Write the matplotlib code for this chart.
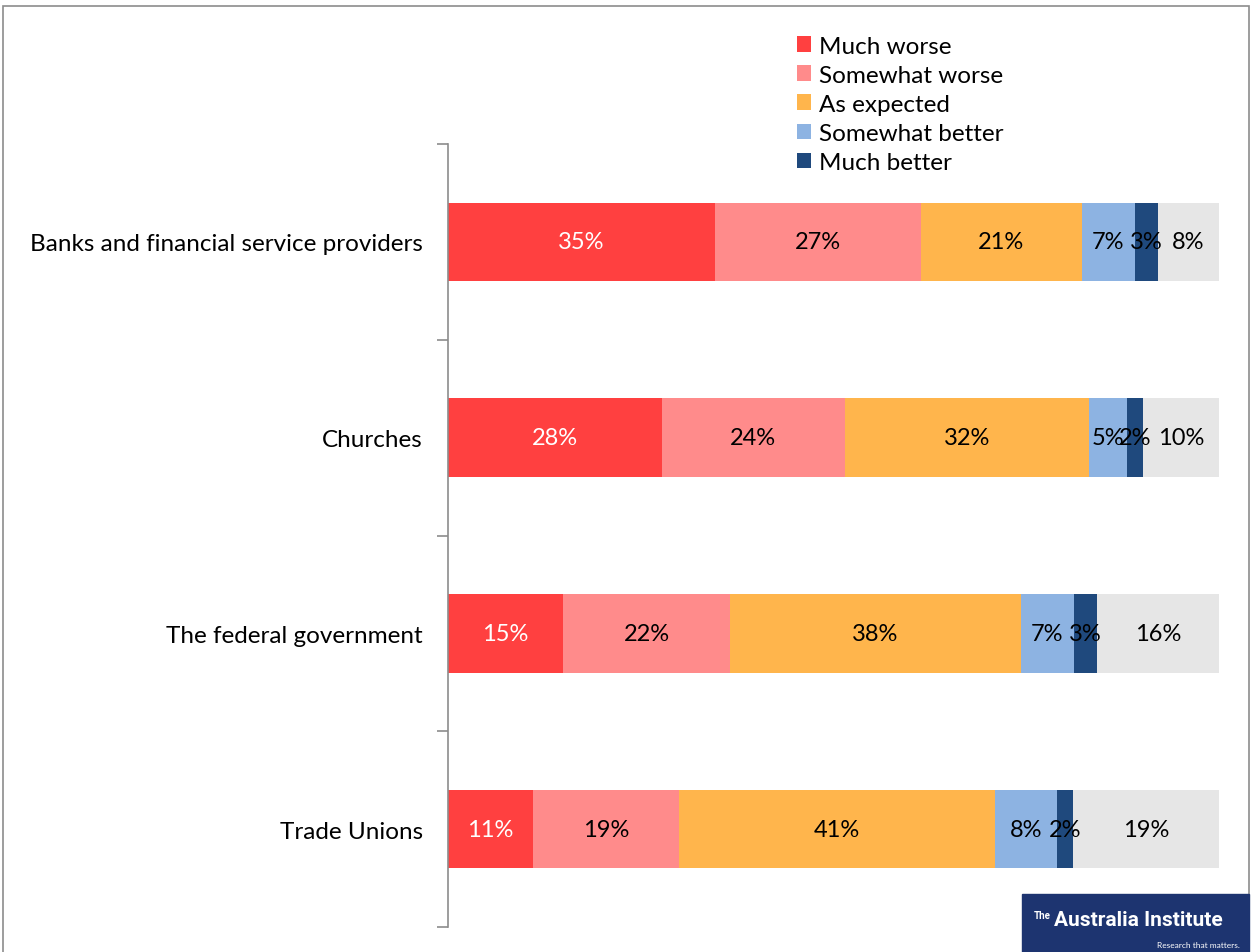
import matplotlib
matplotlib.use("Agg")
import matplotlib.pyplot as plt
from matplotlib.patches import Rectangle
import numpy as np

plt.rcParams['font.family'] = ['Lato', 'DejaVu Sans']

categories = ["Banks and financial service providers", "Churches",
              "The federal government", "Trade Unions"]
series_names = ["Much worse", "Somewhat worse", "As expected",
                "Somewhat better", "Much better", "Don't know"]
much_worse = [35, 28, 15, 11]
somewhat_worse = [27, 24, 22, 19]
as_expected = [21, 32, 38, 41]
somewhat_better = [7, 5, 7, 8]
much_better = [3, 2, 3, 2]
dont_know = [8, 10, 16, 19]

colors = ["#FF4040", "#FF8B8B", "#FFB54C", "#8DB3E2", "#1F497D", "#E6E6E6"]
label_colors = ["white", "black", "black", "black", "black", "black"]

W, H = 1255, 953
fig = plt.figure(figsize=(W / 100, H / 100), dpi=100)

# outer border
fig.add_artist(Rectangle((3 / W, -0.01), (1249 - 3) / W, (H - 7) / H + 0.01,
                         transform=fig.transFigure, fill=False,
                         edgecolor="#8C8C8C", lw=1.2))

ax = fig.add_axes([448 / W, (H - 928) / H, (1219 - 448) / W, (928 - 145) / H])

data = np.array([much_worse, somewhat_worse, as_expected,
                 somewhat_better, much_better, dont_know], dtype=float)
totals = data.sum(axis=0)
frac = data / totals

n = len(categories)
y = np.arange(n)
left = np.zeros(n)
handles = []
for i, name in enumerate(series_names):
    b = ax.barh(y, frac[i], left=left, height=0.4, color=colors[i],
                label=name, edgecolor="none")
    handles.append(b)
    for j in range(n):
        ax.text(left[j] + frac[i][j] / 2, y[j], f"{int(data[i][j])}%",
                ha="center", va="center", fontsize=17, color=label_colors[i])
    left += frac[i]

ax.set_xlim(0, 1)
ax.set_ylim(n - 0.5, -0.5)
ax.set_yticks(y)
ax.set_yticklabels(categories, fontsize=17.5)
ax.tick_params(axis="y", length=0, pad=18)
ax.set_yticks(np.arange(n + 1) - 0.5, minor=True)
ax.tick_params(axis="y", which="minor", length=8, color="#8C8C8C", width=1.2)
ax.set_xticks([])
for s in ["top", "right", "bottom"]:
    ax.spines[s].set_visible(False)
ax.spines["left"].set_color("#8C8C8C")
ax.spines["left"].set_linewidth(1.2)

leg = fig.legend(handles[:5], series_names[:5], loc="upper left",
                 bbox_to_anchor=(787 / W, 1 - 27 / H), frameon=False,
                 fontsize=17.5, handlelength=0.6, handleheight=0.6,
                 handletextpad=0.3, labelspacing=0.33, borderaxespad=0)

# logo
fig.add_artist(Rectangle((1022 / W, 0), (1249 - 1022) / W, (953 - 895) / H,
                         transform=fig.transFigure, color="#1D3470"))
fig.text(1034 / W, (953 - 921) / H, "The", color="white", fontsize=7,
         fontweight="bold", ha="left", va="bottom",
         family=["Roboto", "DejaVu Sans"])
fig.text(1054 / W, (953 - 921) / H, "Australia Institute",
         color="white", fontsize=15, fontweight="bold", ha="left",
         va="center", family=["Roboto", "DejaVu Sans"])
fig.text(1240 / W, (953 - 946) / H, "Research that matters.", color="white",
         fontsize=6, ha="right", va="center")

fig.savefig("out.png", dpi=100)
